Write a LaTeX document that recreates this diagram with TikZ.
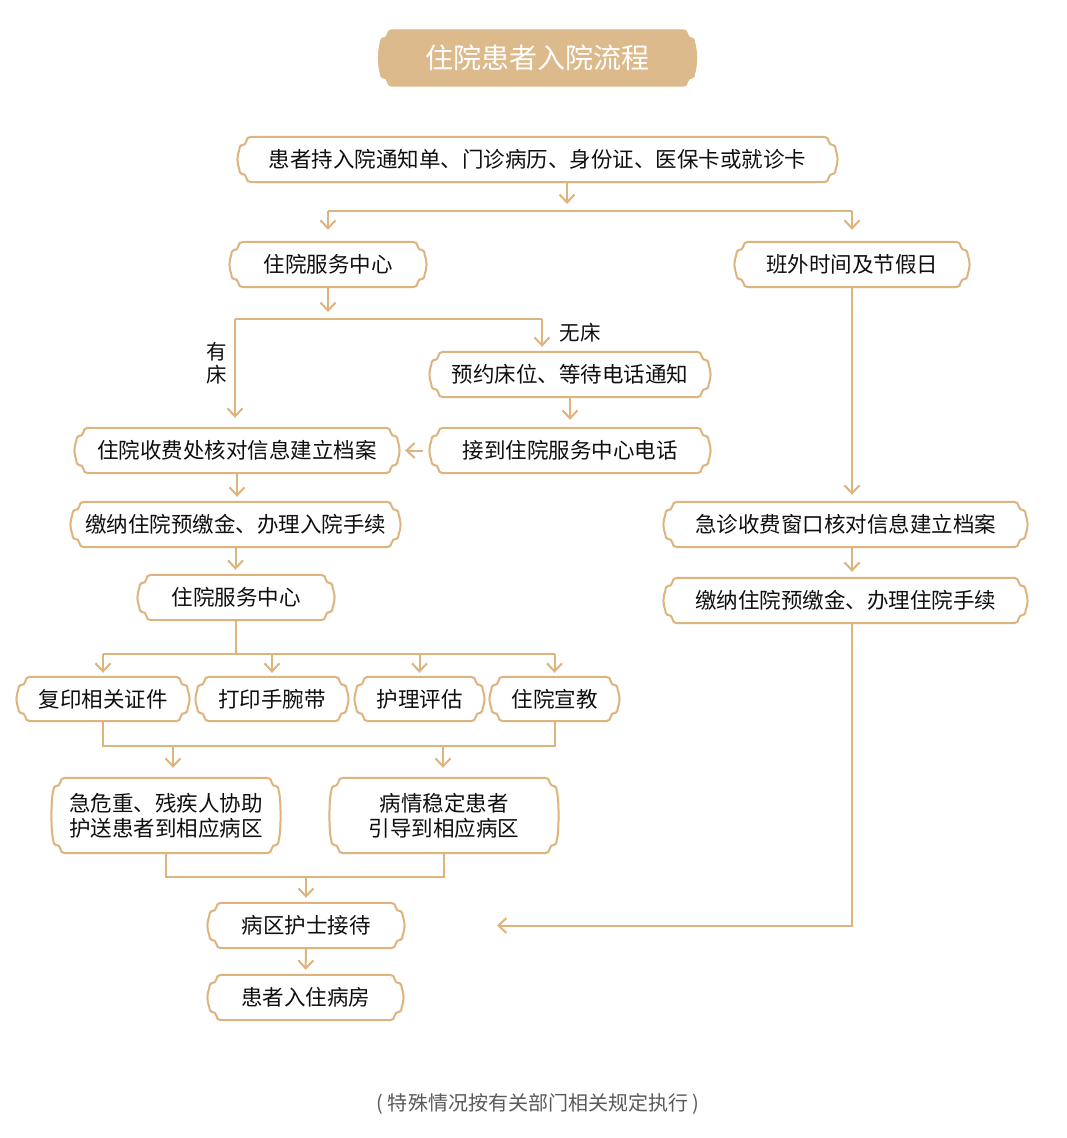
\documentclass[tikz,border=0pt]{standalone}
\usepackage{fontspec}
\setmainfont{Noto Sans CJK SC}
\usetikzlibrary{calc,arrows.meta}
\pgfdeclarelayer{bg}
\pgfsetlayers{bg,main}
\definecolor{tan}{RGB}{221,179,126}
\definecolor{tanfill}{RGB}{221,186,140}
\definecolor{txt}{RGB}{15,15,15}
\definecolor{foot}{RGB}{90,90,90}
\newcommand\bfnt{\fontsize{21.5}{25}\selectfont}
\newcommand\deco[2][frm]{%
 \path[#1] let \p1=(#2.south west), \p2=(#2.north east) in
 (\x1+14,\y2) -- (\x2-14,\y2)
 to[out=0,in=90] (\x2-9.5,\y2-4.5)
 to[out=270,in=180] (\x2-4.5,\y2-8.5)
 to[out=0,in=107] (\x2-2.5,\y2-13)
 .. controls (\x2,\y2-21) and (\x2,\y1+21) .. (\x2-2.5,\y1+13)
 to[out=253,in=0] (\x2-4.5,\y1+8.5)
 to[out=180,in=90] (\x2-9.5,\y1+4.5)
 to[out=270,in=0] (\x2-14,\y1)
 -- (\x1+14,\y1)
 to[out=180,in=270] (\x1+9.5,\y1+4.5)
 to[out=90,in=0] (\x1+4.5,\y1+8.5)
 to[out=180,in=287] (\x1+2.5,\y1+13)
 .. controls (\x1,\y1+21) and (\x1,\y2-21) .. (\x1+2.5,\y2-13)
 to[out=73,in=180] (\x1+4.5,\y2-8.5)
 to[out=0,in=270] (\x1+9.5,\y2-4.5)
 to[out=90,in=180] (\x1+14,\y2) -- cycle;}
\tikzset{
 frm/.style={draw=tan, line width=2pt},
 ttl/.style={draw=tanfill, line width=1pt, fill=tanfill},
 bx/.style={inner sep=0pt, minimum height=45pt, font=\bfnt, text=txt, align=center},
 ln/.style={draw=tan, line width=2pt},
 arr/.style={ln, -{Straight Barb[length=8pt,width=15pt]}},
 lbl/.style={inner sep=0pt, font=\fontsize{20.5}{23}\selectfont, text=txt, align=center},
}
\begin{document}
\begin{tikzpicture}[x=1pt,y=1pt]
\useasboundingbox (0,0) rectangle (1067,-1138);
% nodes
\node[inner sep=0pt, minimum width=319pt, minimum height=56pt, font=\fontsize{28}{30}\selectfont, text=white] (title) at (537.5,-58) {住院患者入院流程};
\node[bx, minimum width=601pt] (b1) at (537.5,-159.5) {患者持入院通知单、门诊病历、身份证、医保卡或就诊卡};
\node[bx, minimum width=198pt] (svc1) at (328,-264.5) {住院服务中心};
\node[bx, minimum width=236pt] (off) at (852,-264.5) {班外时间及节假日};
\node[bx, minimum width=282pt] (book) at (570,-374.5) {预约床位、等待电话通知};
\node[bx, minimum width=282pt] (call) at (570,-450.5) {接到住院服务中心电话};
\node[bx, minimum width=326pt] (fee) at (237,-450.5) {住院收费处核对信息建立档案};
\node[bx, minimum width=331pt] (pay) at (235.5,-524.5) {缴纳住院预缴金、办理入院手续};
\node[bx, minimum width=198pt] (svc2) at (236,-597.5) {住院服务中心};
\node[bx, minimum width=174pt, minimum height=44pt] (copy) at (103,-699) {复印相关证件};
\node[bx, minimum width=154pt, minimum height=44pt] (band) at (272,-699) {打印手腕带};
\node[bx, minimum width=131pt, minimum height=44pt] (eval) at (419.5,-699) {护理评估};
\node[bx, minimum width=131pt, minimum height=44pt] (edu) at (554.5,-699) {住院宣教};
\node[bx, minimum width=230pt, minimum height=75pt] (urg) at (166,-815.5) {急危重、残疾人协助\\护送患者到相应病区};
\node[bx, minimum width=230pt, minimum height=75pt] (stab) at (444,-815.5) {病情稳定患者\\引导到相应病区};
\node[bx, minimum width=198pt] (nurse) at (306,-925.5) {病区护士接待};
\node[bx, minimum width=197pt] (room) at (305.5,-997.5) {患者入住病房};
\node[bx, minimum width=365pt] (emg) at (845.5,-524.5) {急诊收费窗口核对信息建立档案};
\node[bx, minimum width=365pt] (pay2) at (845.5,-600.5) {缴纳住院预缴金、办理住院手续};
\node[lbl] (yes) at (217,-363) {有\\床};
\node[lbl] (no) at (580,-333) {无床};
\node[inner sep=0pt, font=\fontsize{20}{22}\selectfont, text=foot] (foot) at (538,-1104) {( 特殊情况按有关部门相关规定执行 )};
% background and frames
\begin{pgfonlayer}{bg}
\fill[white] (0,0) rectangle (1067,-1138);
\deco[ttl]{title}
\end{pgfonlayer}
\deco{b1}
\deco{svc1}
\deco{off}
\deco{book}
\deco{call}
\deco{fee}
\deco{pay}
\deco{svc2}
\deco{copy}
\deco{band}
\deco{eval}
\deco{edu}
\deco{urg}
\deco{stab}
\deco{nurse}
\deco{room}
\deco{emg}
\deco{pay2}
% connectors
\coordinate (j1) at (567,-211);
\draw[arr,shorten >=7pt] (b1.south -| j1) -- (j1);
\draw[ln] (svc1.north |- j1) -- (off.north |- j1);
\draw[arr,shorten >=12pt] (svc1.north |- j1) -- (svc1.north);
\draw[arr,shorten >=12pt] (off.north |- j1) -- (off.north);
\coordinate (j2) at (328,-319);
\coordinate (j2l) at (235,-319);
\coordinate (j2r) at (542,-319);
\draw[arr,shorten >=7pt] (svc1.south) -- (j2);
\draw[ln] (j2l) -- (j2r);
\draw[arr,shorten >=10pt] (j2l) -- (j2l |- fee.north);
\draw[arr,shorten >=5pt] (j2r) -- (j2r |- book.north);
\draw[arr,shorten >=8pt] (book.south) -- (call.north);
\draw[arr,shorten <=6pt,shorten >=5pt] (call.west) -- (fee.east);
\draw[arr,shorten >=5pt] (fee.south) -- (fee.south |- pay.north);
\draw[arr,shorten >=5pt] (pay.south) -- (pay.south |- svc2.north);
\coordinate (j3) at (236,-654);
\draw[ln] (svc2.south) -- (j3);
\draw[ln] (j3 -| copy) -- (j3 -| edu);
\draw[arr,shorten >=4pt] (j3 -| copy) -- (copy.north);
\draw[arr,shorten >=4pt] (j3 -| band) -- (band.north);
\draw[arr,shorten >=4pt] (j3 -| eval) -- (eval.north);
\draw[arr,shorten >=4pt] (j3 -| edu) -- (edu.north);
\coordinate (j4) at (0,-746);
\draw[ln] (copy.south) -- (copy.south |- j4) -- (edu.south |- j4) -- (edu.south);
\coordinate (a4) at (173,-746);
\coordinate (b4) at (443,-746);
\draw[arr,shorten >=10pt] (a4) -- (a4 |- urg.north);
\draw[arr,shorten >=10pt] (b4) -- (b4 |- stab.north);
\coordinate (j5) at (306,-877);
\draw[ln] (urg.south) -- (urg.south |- j5) -- (stab.south |- j5) -- (stab.south);
\draw[arr,shorten >=5pt] (j5) -- (nurse.north);
\draw[arr,shorten >=5pt] (nurse.south) -- (room.north);
\draw[arr,shorten >=7pt] (off.south) -- (off.south |- emg.north);
\draw[arr,shorten >=6pt] (emg.south -| off) -- (off |- pay2.north);
\coordinate (e) at (497,-925.5);
\draw[arr] (pay2.south -| off) |- (e);
\end{tikzpicture}
\end{document}
